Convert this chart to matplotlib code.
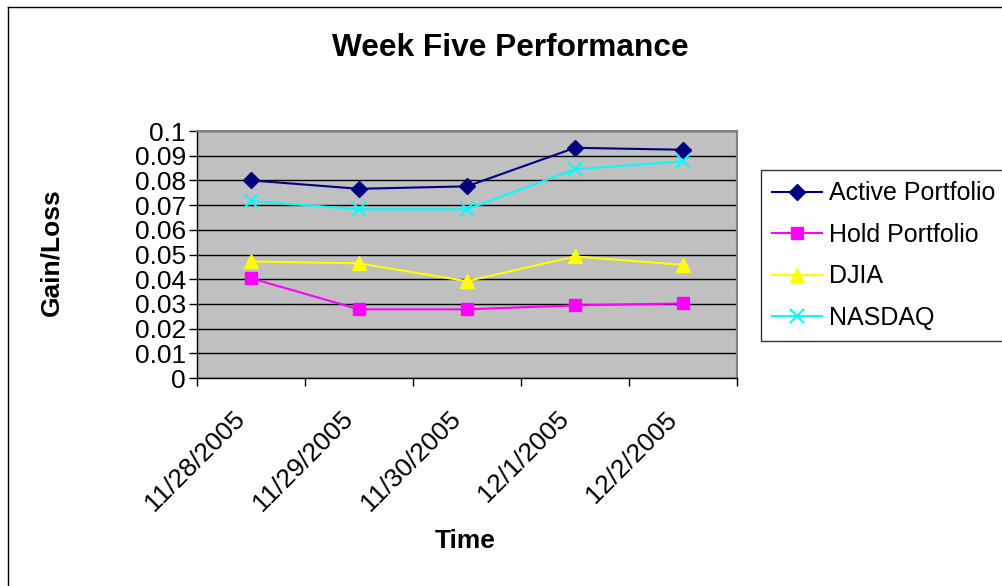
import matplotlib.pyplot as plt
from matplotlib.lines import Line2D
from matplotlib.transforms import ScaledTranslation

plt.rcParams['font.family'] = ['Liberation Sans', 'DejaVu Sans']

# Daily gain/loss for the week
dates = ['11/28/2005', '11/29/2005', '11/30/2005', '12/1/2005', '12/2/2005']
active = [0.0800, 0.0766, 0.0776, 0.0932, 0.0924]
hold = [0.0404, 0.0278, 0.0278, 0.0294, 0.0302]
djia = [0.0472, 0.0464, 0.0392, 0.0492, 0.0458]
nasdaq = [0.0717, 0.0683, 0.0683, 0.0845, 0.0877]

W, H = 1003, 586
fig = plt.figure(figsize=(W / 100, H / 100), dpi=100)
fig.patch.set_facecolor('white')

# plot area in pixel coords: left 197, right 737, top 131, bottom 378
ax = fig.add_axes([197 / W, 1 - 378 / H, (737 - 197) / W, (378 - 131) / H])
ax.set_facecolor('#C0C0C0')

x = list(range(len(dates)))
ax.plot(x, active, color='#000080', marker='D', markersize=8, lw=1.5, label='Active Portfolio')
ax.plot(x, hold, color='#FF00FF', marker='s', markersize=8, lw=1.5, label='Hold Portfolio')
ax.plot(x, djia, color='#FFFF00', marker='^', markersize=10, lw=1.5, label='DJIA')
ax.plot(x, nasdaq, color='#00FFFF', marker='x', markersize=10, mew=1.5, lw=1.5, label='NASDAQ')

ax.set_xlim(-0.5, len(dates) - 0.5)
ax.set_ylim(0, 0.1)
yt = [i / 100 for i in range(11)]
ax.set_yticks(yt)
ax.set_yticklabels(['0'] + ['%g' % v for v in yt[1:]], fontsize=19)
ax.yaxis.grid(True, color='black', lw=1)
ax.set_axisbelow(True)

# tick marks between categories, labels centred on categories
ax.set_xticks([i - 0.5 for i in range(len(dates) + 1)])
ax.set_xticklabels([])
ax.set_xticks(x, minor=True)
ax.set_xticklabels(dates, minor=True, rotation=45, ha='right', va='center',
                   rotation_mode='anchor', fontsize=19)
ax.tick_params(axis='x', which='minor', length=0, pad=27)
ax.tick_params(axis='x', which='major', length=6, width=1, direction='out')
ax.tick_params(axis='y', length=6, width=1, direction='out', pad=2)
# nudge the slanted date labels a little to the left
shift = ScaledTranslation(-10 / 100, 0, fig.dpi_scale_trans)
for lbl in ax.get_xticklabels(minor=True):
    lbl.set_transform(lbl.get_transform() + shift)

for s in ['top', 'right']:
    ax.spines[s].set_color('#808080')
    ax.spines[s].set_linewidth(1.5)
for s in ['left', 'bottom']:
    ax.spines[s].set_color('black')
    ax.spines[s].set_linewidth(1)

fig.text(510 / W, 1 - 48 / H, 'Week Five Performance', ha='center', va='center',
         fontsize=22.8, fontweight='bold')
fig.text(465 / W, 1 - 541 / H, 'Time', ha='center', va='center',
         fontsize=19, fontweight='bold')
fig.text(51 / W, 1 - 252 / H, 'Gain/Loss', ha='center', va='center',
         rotation=90, fontsize=19, fontweight='bold')

leg = fig.legend(loc='upper left', bbox_to_anchor=(761 / W, 1 - 170 / H),
                 fontsize=18, frameon=True, fancybox=False, edgecolor='black',
                 borderpad=0.45, labelspacing=0.7, handlelength=2.0,
                 handletextpad=0.27, borderaxespad=0)
leg.get_frame().set_linewidth(1)

# outer chart border
fig.add_artist(Line2D([8 / W, 1], [1 - 7 / H, 1 - 7 / H], color='black', lw=1,
                      transform=fig.transFigure))
fig.add_artist(Line2D([8 / W, 8 / W], [0, 1 - 7 / H], color='black', lw=1,
                      transform=fig.transFigure))

fig.savefig('out.png', dpi=100)
